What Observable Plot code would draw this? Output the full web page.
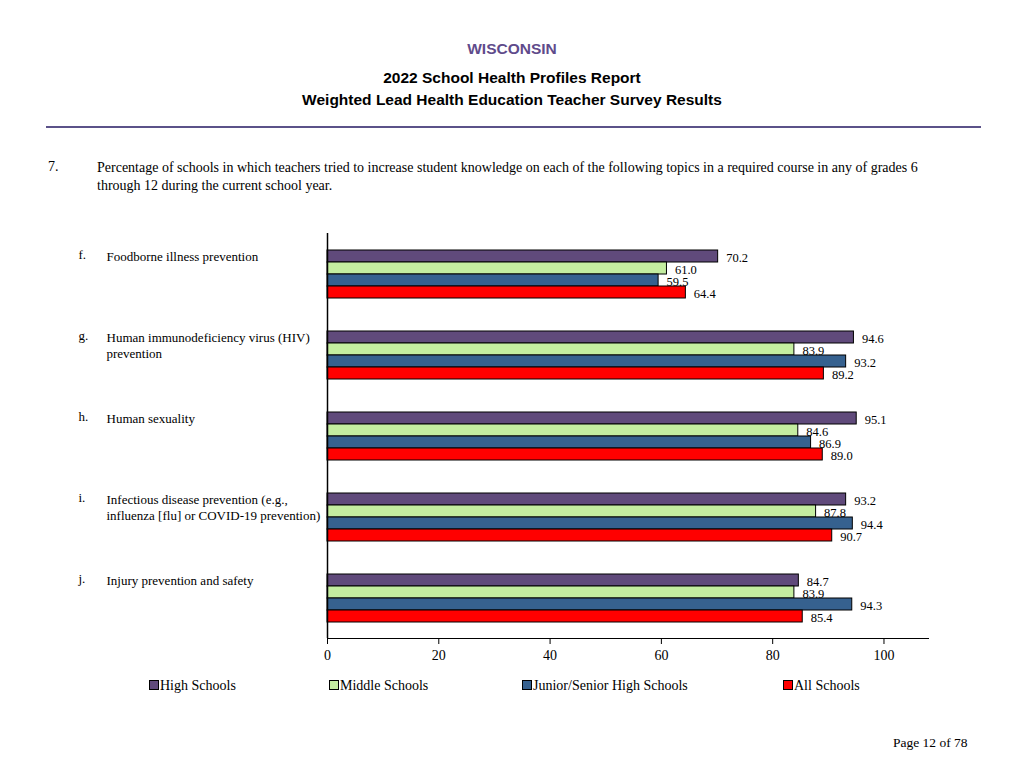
<!DOCTYPE html>
<html>
<head>
<meta charset="utf-8">
<script src="https://cdn.jsdelivr.net/npm/d3@7"></script>
<script src="https://cdn.jsdelivr.net/npm/@observablehq/plot@0.6"></script>
<style>
  html, body { margin: 0; padding: 0; background: #fff; }
  body { width: 1024px; height: 768px; position: relative; overflow: hidden; font-family: "Liberation Serif", "Times New Roman", serif; color: #000; }
  .abs { position: absolute; }
  .hdr { left: 0; width: 1024px; text-align: center; font-family: "Liberation Sans", Arial, sans-serif; font-weight: bold; }
  .rule { left: 46px; width: 935px; top: 126px; height: 2px; background: #5b5289; }
  .lg { top: 678px; font-size: 14px; white-space: nowrap; }
  .sw { display: inline-block; width: 8px; height: 8px; border: 1px solid #000; margin-right: 1px; vertical-align: 0px; }
</style>
</head>
<body>
<div class="abs hdr" style="top:40px;font-size:15.5px;color:#5f4b8b;">WISCONSIN</div>
<div class="abs hdr" style="top:69px;font-size:15.5px;">2022 School Health Profiles Report</div>
<div class="abs hdr" style="top:91px;font-size:15.5px;">Weighted Lead Health Education Teacher Survey Results</div>
<div class="abs rule"></div>
<div class="abs" style="left:48px;top:159px;font-size:14px;">7.</div>
<div class="abs" style="left:97px;top:159px;width:850px;font-size:14px;line-height:18px;">Percentage of schools in which teachers tried to increase student knowledge on each of the following topics in a required course in any of grades 6 through 12 during the current school year.</div>
<div id="chart" class="abs" style="left:0;top:213px;"></div>
<div id="legend"></div>
<div class="abs" style="left:893px;top:735px;font-size:13.5px;">Page 12 of 78</div>
<script>
const topics = ["f", "g", "h", "i", "j"];
const topicLetters = ["f.", "g.", "h.", "i.", "j."];
const topicLabels = [
  "Foodborne illness prevention",
  "Human immunodeficiency virus (HIV)\nprevention",
  "Human sexuality",
  "Infectious disease prevention (e.g.,\ninfluenza [flu] or COVID-19 prevention)",
  "Injury prevention and safety"
];
const series = ["High Schools", "Middle Schools", "Junior/Senior High Schools", "All Schools"];
const colors = ["#604a7b", "#c4eda0", "#36618f", "#ff0000"];
const highSchools = [70.2, 94.6, 95.1, 93.2, 84.7];
const middleSchools = [61.0, 83.9, 84.6, 87.8, 83.9];
const juniorSenior = [59.5, 93.2, 86.9, 94.4, 94.3];
const allSchools = [64.4, 89.2, 89.0, 90.7, 85.4];
const xTicks = [0, 20, 40, 60, 80, 100];

const valuesBySeries = [highSchools, middleSchools, juniorSenior, allSchools];
const rows = [];
topics.forEach((t, i) => {
  series.forEach((s, j) => rows.push({topic: t, series: s, value: valuesBySeries[j][i]}));
});
const topicRows = topics.map((t, i) => ({topic: t, letter: topicLetters[i], label: topicLabels[i]}));

const chart = Plot.plot({
  width: 1024,
  height: 455,
  marginLeft: 327,
  marginRight: 96,
  marginTop: 20,
  marginBottom: 30,
  style: {fontFamily: "Liberation Serif, Times New Roman, serif", fontSize: "14px", color: "#000", background: "transparent"},
  fy: {domain: topics, padding: 0, axis: null},
  y: {domain: series, paddingInner: 0, paddingOuter: 1.375, axis: null},
  x: {domain: [0, 108], ticks: xTicks, tickSize: 6, tickPadding: 6, line: true, label: null, tickFormat: d => String(d)},
  color: {domain: series, range: colors},
  marks: [
    Plot.barX(rows, {x: "value", y: "series", fy: "topic", fill: "series", stroke: "#000", strokeWidth: 1}),
    Plot.text(rows, {x: "value", y: "series", fy: "topic", text: d => d.value.toFixed(1), textAnchor: "start", dx: 8, dy: 1, fontSize: 12.5}),
    Plot.ruleX([0], {stroke: "#000", strokeWidth: 1.5}),
    Plot.text(topicRows, {fy: "topic", text: "letter", frameAnchor: "top-left", textAnchor: "start", lineAnchor: "top", dx: -249, dy: 16, fontSize: 13}),
    Plot.text(topicRows, {fy: "topic", text: "label", frameAnchor: "top-left", textAnchor: "start", lineAnchor: "top", dx: -221, dy: 16, fontSize: 13, lineHeight: 1.22})
  ]
});
document.getElementById("chart").appendChild(chart);

const legendLefts = [149, 329, 522, 783];
const legend = document.getElementById("legend");
series.forEach((s, i) => {
  const div = document.createElement("div");
  div.className = "abs lg";
  div.style.left = legendLefts[i] + "px";
  div.innerHTML = `<span class="sw" style="background:${colors[i]}"></span>${s}`;
  legend.appendChild(div);
});
</script>
</body>
</html>
